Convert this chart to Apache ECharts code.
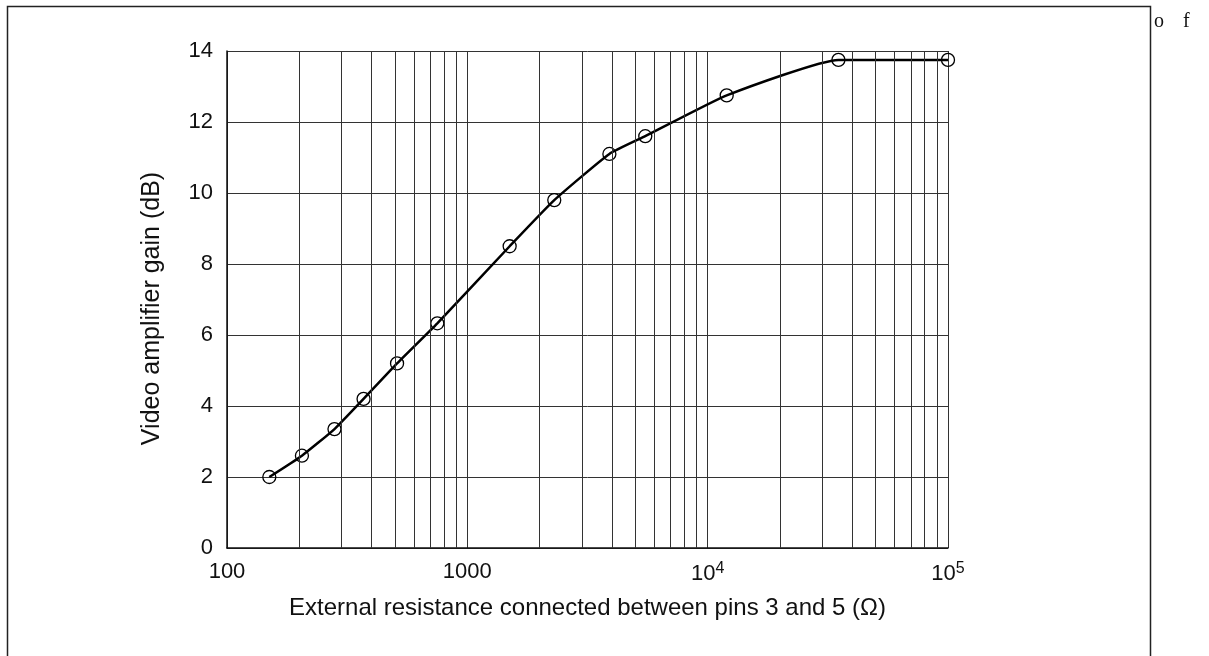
<!DOCTYPE html>
<html>
<head>
<meta charset="utf-8">
<script src="https://cdn.jsdelivr.net/npm/echarts@6/dist/echarts.min.js"></script>
<style>
  html, body { margin: 0; padding: 0; background: #fff; }
  #chart { width: 1209px; height: 656px; }
</style>
</head>
<body>
<div id="chart"></div>
<script>
// Measured gain vs. external resistance between pins 3 and 5
const resistance = [150, 205, 280, 370, 510, 750, 1500, 2300, 3900, 5500, 12000, 35000, 100000];
const gainDb     = [2.0, 2.6, 3.35, 4.2, 5.2, 6.33, 8.5, 9.8, 11.1, 11.6, 12.75, 13.75, 13.75];

const xTickLabels = { 100: '100', 1000: '1000', 10000: '{b|10}{s|4}', 100000: '{b|10}{s|5}' };
const yTicks = [0, 2, 4, 6, 8, 10, 12, 14];

// 2..9 lines inside each decade of the log axis
const minorLines = [];
[100, 1000, 10000].forEach(function (d) {
  for (let k = 2; k <= 9; k++) minorLines.push({ xAxis: k * d });
});

const font = 'Liberation Sans, Arial, sans-serif';
const gridColor = '#333';

const chart = echarts.init(document.getElementById('chart'), null, { renderer: 'canvas' });
chart.setOption({
  animation: false,
  backgroundColor: '#fff',
  grid: { left: 227, top: 51, right: 261, bottom: 108, containLabel: false },
  xAxis: {
    type: 'log',
    logBase: 10,
    min: 100,
    max: 100000,
    name: 'External resistance connected between pins 3 and 5 (\u03A9)',
    nameLocation: 'middle',
    nameGap: 48,
    nameTextStyle: { fontFamily: font, fontSize: 24, color: '#111' },
    axisLine: { lineStyle: { color: '#111', width: 1.5 } },
    axisTick: { show: false },
    axisLabel: {
      margin: 13,
      fontFamily: font,
      fontSize: 22,
      color: '#111',
      formatter: function (v) { return xTickLabels[Math.round(v)] || ''; },
      rich: {
        b: { fontFamily: font, fontSize: 22, color: '#111' },
        s: { fontFamily: font, fontSize: 16, color: '#111', verticalAlign: 'top', padding: [0, 0, 9, 0] }
      }
    },
    splitLine: { show: true, lineStyle: { color: gridColor, width: 1 } }
  },
  yAxis: {
    type: 'value',
    min: 0,
    max: 14,
    interval: 2,
    name: 'Video amplifier gain (dB)',
    nameLocation: 'middle',
    nameGap: 62,
    nameTextStyle: { fontFamily: font, fontSize: 25, color: '#111', padding: [0, 18, 0, 0] },
    axisLine: { show: true, lineStyle: { color: '#111', width: 1.5 } },
    axisTick: { show: false },
    axisLabel: {
      margin: 14,
      fontFamily: font,
      fontSize: 22,
      color: '#111',
      formatter: function (v) { return yTicks.indexOf(v) >= 0 ? String(v) : ''; }
    },
    splitLine: { show: true, lineStyle: { color: gridColor, width: 1 } }
  },
  series: [
    {
      type: 'line',
      data: [],
      silent: true,
      z: 1,
      markLine: {
        silent: true,
        symbol: ['none', 'none'],
        label: { show: false },
        lineStyle: { type: 'solid', color: gridColor, width: 1 },
        data: minorLines
      }
    },
    {
      type: 'line',
      z: 3,
      data: resistance.map(function (r, i) { return [r, gainDb[i]]; }),
      smooth: 0.15,
      symbol: 'circle',
      symbolSize: 13,
      showSymbol: true,
      lineStyle: { color: '#000', width: 2.5 },
      itemStyle: { color: 'rgba(255,255,255,0)', borderColor: '#000', borderWidth: 1.3 }
    }
  ],
  graphic: [
    {
      type: 'rect',
      left: 5, top: 4,
      shape: { x: 0, y: 0, width: 1143, height: 700 },
      style: { fill: 'none', stroke: '#222', lineWidth: 1.5 },
      silent: true
    },
    {
      type: 'text', left: 1154, top: 12,
      style: { text: 'o', font: '20px "Liberation Serif", "Times New Roman", serif', fill: '#111' }
    },
    {
      type: 'text', left: 1183, top: 12,
      style: { text: 'f', font: '20px "Liberation Serif", "Times New Roman", serif', fill: '#111' }
    }
  ]
});
</script>
</body>
</html>
